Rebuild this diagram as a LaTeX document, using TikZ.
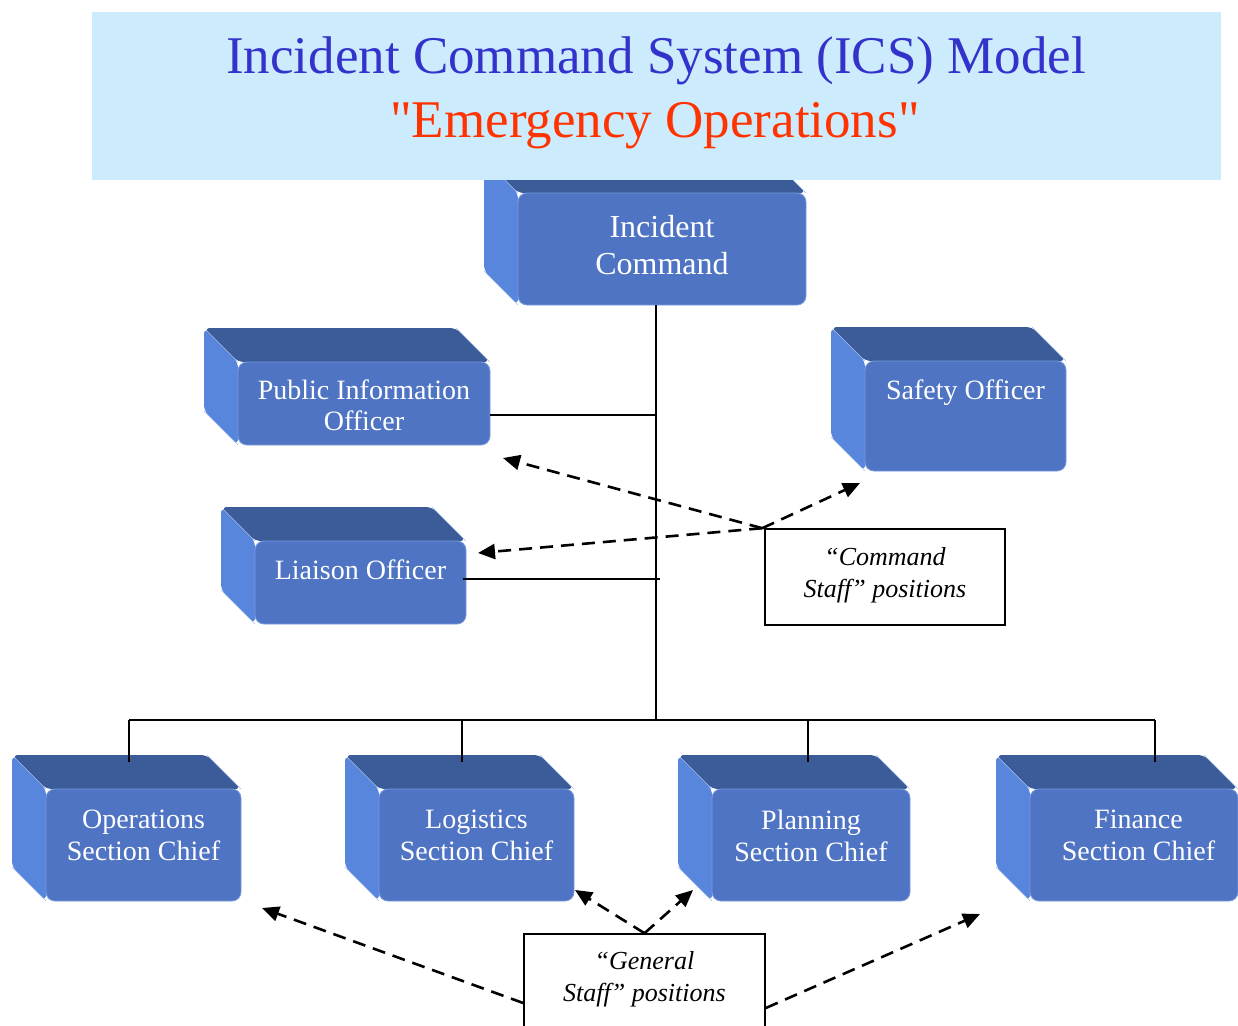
\documentclass[tikz,border=0pt]{standalone}
\usepackage{fontspec}
\setmainfont{Liberation Serif}
\newfontfamily\titlefont{Liberation Serif}[Ligatures=TeXOff]
\usetikzlibrary{arrows.meta}
\definecolor{topface}{RGB}{59,92,152}
\definecolor{sideface}{RGB}{88,134,220}
\definecolor{frontface}{RGB}{79,116,195}
\definecolor{frontedge}{RGB}{120,155,222}
\definecolor{bannerblue}{RGB}{204,235,253}
\definecolor{titleblue}{RGB}{51,51,204}
\definecolor{titlered}{RGB}{255,51,0}
\tikzset{
  front/.style={rectangle, rounded corners=9pt, fill=frontface, draw=frontedge, line width=0.8pt, inner sep=0pt},
  boxtext/.style={text=white, align=center, inner sep=0pt, font=\fontsize{28}{32}\selectfont},
  edgeline/.style={draw=sideface!55!white, line width=0.5pt},
  conn/.style={line width=2pt, black},
  dasharrow/.style={line width=2.6pt, dash pattern=on 13pt off 8pt, -{Triangle[length=17pt,width=15pt]}},
  callout/.style={rectangle, draw=black, line width=1.6pt, inner sep=0pt},
  callouttext/.style={align=center, inner sep=0pt, font=\itshape\fontsize{26}{32}\selectfont},
}
% name, x1, y1, x2, y2, label options, text
\newcommand\icsbox[7]{%
  \fill[sideface, rounded corners=6pt] (#2-34,#3-34) -- (#2,#3) -- (#2,#5) -- (#2-34,#5-34) -- cycle;
  \fill[topface, rounded corners=6pt] (#2-34,#3-34) -- (#4-34,#3-34) -- (#4,#3) -- (#2,#3) -- cycle;
  \draw[edgeline] (#2-32,#3-32) -- (#2,#3);
  \draw[edgeline] (#4-34,#3-34) -- (#4,#3);
  \draw[edgeline] (#2-34,#5-34) -- (#2,#5);
  \node[front, minimum width={#4-#2}, minimum height={#5-#3}, label={[boxtext,#6]center:{#7}}] (#1) at ({(#2+#4)/2},{(#3+#5)/2}) {};
}
\begin{document}
\begin{tikzpicture}[x=1pt,y=-1pt]
\useasboundingbox (0,0) rectangle (1238,1025);
% boxes
\icsbox{ic}{518}{193}{806}{305}{yshift=4pt, font=\fontsize{32}{37}\selectfont}{Incident\\Command}
\icsbox{pio}{238}{362}{490}{445}{yshift=-1.5pt, font=\fontsize{28}{31}\selectfont}{Public Information\\Officer}
\icsbox{safety}{865}{361}{1066}{471}{yshift=23.5pt}{Safety Officer}
\icsbox{liaison}{255}{541}{466}{624}{yshift=13pt}{Liaison Officer}
\icsbox{ops}{46}{789}{241}{901}{yshift=9.5pt, font=\fontsize{28}{32}\selectfont}{Operations\\Section Chief}
\icsbox{log}{379}{789}{574}{901}{yshift=9.5pt, font=\fontsize{28}{32}\selectfont}{Logistics\\Section Chief}
\icsbox{plan}{712}{789}{910}{901}{yshift=9.5pt, font=\fontsize{28}{32}\selectfont}{Planning\\Section Chief}
\icsbox{fin}{1030}{789}{1238}{901}{yshift=9.5pt, xshift=4.5pt, font=\fontsize{28}{32}\selectfont}{Finance\\Section Chief}
% banner
\node[rectangle, fill=bannerblue, inner sep=0pt, minimum width=1129, minimum height=168] (banner) at (656.5,96) {};
\node[anchor=base, inner sep=0pt, text=titleblue, font=\fontsize{53}{60}\selectfont] (title1) at (656,73) {Incident Command System (ICS) Model};
\node[anchor=base, inner sep=0pt, text=titlered, font=\titlefont\fontsize{53}{60}\selectfont] (title2) at (655,137) {"Emergency Operations"};
% tree connectors
\coordinate (bus) at (656,720);
\coordinate (pioEnd) at (656,415);
\coordinate (liaEnd) at (660,579);
\coordinate (d1) at (129,762);
\coordinate (d2) at (462,762);
\coordinate (d3) at (808,762);
\coordinate (d4) at (1155,762);
\draw[conn] (ic.south -| bus) -- (bus);
\draw[conn] (pio.east |- pioEnd) -- (pioEnd);
\draw[conn] ([xshift=-3pt]liaison.east |- liaEnd) -- (liaEnd);
\draw[conn] (d1 |- bus) -- (d4 |- bus);
\draw[conn] (d1 |- bus) -- (d1);
\draw[conn] (d2 |- bus) -- (d2);
\draw[conn] (d3 |- bus) -- (d3);
\draw[conn] (d4 |- bus) -- (d4);
% callouts
\node[callout, minimum width=240, minimum height=96, label={[callouttext,yshift=2pt]center:{“Command\\Staff” positions}}] (cmd) at (885,577) {};
\node[callout, minimum width=241, minimum height=111, label={[callouttext,yshift=10.5pt]center:{“General\\Staff” positions}}] (gen) at (644.5,989.5) {};
% arrow tips
\coordinate (tPio) at (503,458);
\coordinate (tLia) at (478,553);
\coordinate (tSaf) at (860,483);
\coordinate (tOps) at (262,908);
\coordinate (tLog) at (575,890);
\coordinate (tPlan) at (693,890);
\coordinate (tFin) at (980,914);
\coordinate (gL) at (524,1003);
\coordinate (gR) at (765,1008);
\draw[dasharrow] ([xshift=-2pt]cmd.north west) -- (tPio);
\draw[dasharrow] ([xshift=-2pt]cmd.north west) -- (tLia);
\draw[dasharrow] ([xshift=-2pt]cmd.north west) -- (tSaf);
\draw[dasharrow] (gen.north) -- (tLog);
\draw[dasharrow] (gen.north) -- (tPlan);
\draw[dasharrow] (gen.west |- gL) -- (tOps);
\draw[dasharrow] (gen.east |- gR) -- (tFin);
\end{tikzpicture}
\end{document}
